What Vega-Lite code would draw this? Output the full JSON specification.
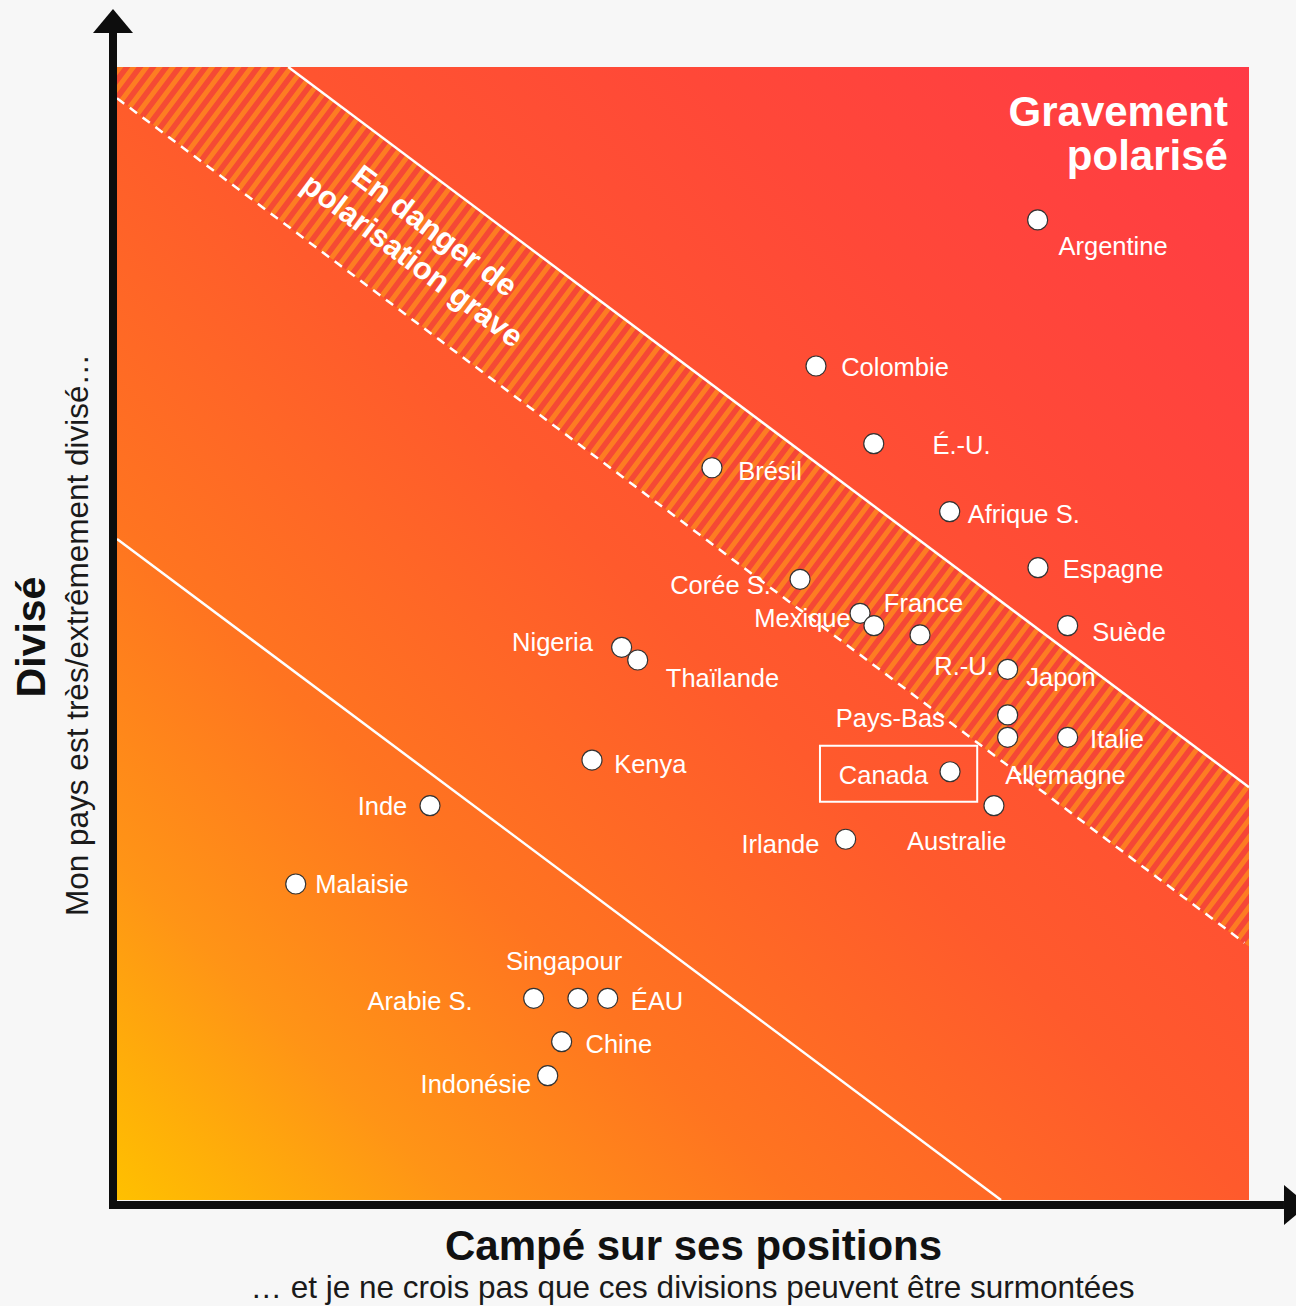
{
  "$schema": "https://vega.github.io/schema/vega-lite/v6.json",
  "width": 1132,
  "height": 1133,
  "autosize": {"type": "none"},
  "padding": {"left": 117, "top": 67, "right": 47, "bottom": 106},
  "background": "#F7F7F7",
  "config": {"view": {"stroke": null}, "font": "Liberation Sans"},
  "datasets": {
    "pays": [
      {"pays": "Argentine", "x": 81.33, "y": 86.5, "lx": 87.99, "ly": 83.41},
      {"pays": "Colombie", "x": 61.75, "y": 73.61, "lx": 68.73, "ly": 72.75},
      {"pays": "É.-U.", "x": 66.85, "y": 66.75, "lx": 74.6, "ly": 65.84},
      {"pays": "Brésil", "x": 52.56, "y": 64.63, "lx": 57.69, "ly": 63.55},
      {"pays": "Afrique S.", "x": 73.56, "y": 60.75, "lx": 80.1, "ly": 59.75},
      {"pays": "Espagne", "x": 81.36, "y": 55.81, "lx": 87.99, "ly": 54.9},
      {"pays": "Corée S.", "x": 60.34, "y": 54.78, "lx": 53.31, "ly": 53.49},
      {"pays": "Mexique", "x": 65.64, "y": 51.78, "lx": 60.56, "ly": 50.57},
      {"pays": "France", "x": 66.87, "y": 50.69, "lx": 71.25, "ly": 51.92},
      {"pays": "R.-U.", "x": 70.94, "y": 49.87, "lx": 74.82, "ly": 46.34},
      {"pays": "Suède", "x": 83.98, "y": 50.69, "lx": 89.4, "ly": 49.34},
      {"pays": "Nigeria", "x": 44.58, "y": 48.78, "lx": 38.47, "ly": 48.46},
      {"pays": "Thaïlande", "x": 46.0, "y": 47.66, "lx": 53.49, "ly": 45.3},
      {"pays": "Japon", "x": 78.68, "y": 46.84, "lx": 83.39, "ly": 45.37},
      {"pays": "Pays-Bas", "x": 78.68, "y": 42.81, "lx": 68.31, "ly": 41.77},
      {"pays": "Allemagne", "x": 78.68, "y": 40.84, "lx": 83.79, "ly": 36.72},
      {"pays": "Italie", "x": 83.98, "y": 40.84, "lx": 88.34, "ly": 39.87},
      {"pays": "Canada", "x": 73.59, "y": 37.8, "lx": 67.71, "ly": 36.72},
      {"pays": "Kenya", "x": 41.96, "y": 38.83, "lx": 47.11, "ly": 37.66},
      {"pays": "Australie", "x": 77.47, "y": 34.8, "lx": 74.18, "ly": 30.89},
      {"pays": "Irlande", "x": 64.37, "y": 31.84, "lx": 58.61, "ly": 30.63},
      {"pays": "Inde", "x": 27.65, "y": 34.8, "lx": 23.45, "ly": 33.98},
      {"pays": "Malaisie", "x": 15.79, "y": 27.89, "lx": 21.64, "ly": 27.07},
      {"pays": "Arabie S.", "x": 36.81, "y": 17.8, "lx": 26.77, "ly": 16.77},
      {"pays": "Singapour", "x": 40.72, "y": 17.8, "lx": 39.49, "ly": 20.3},
      {"pays": "ÉAU", "x": 43.35, "y": 17.8, "lx": 47.7, "ly": 16.77},
      {"pays": "Chine", "x": 39.28, "y": 13.97, "lx": 44.33, "ly": 12.95},
      {"pays": "Indonésie", "x": 38.05, "y": 10.97, "lx": 31.7, "ly": 9.42}
    ]
  },
  "data": {"name": "pays"},
  "layer": [
    {
      "data": {"values": [{}]},
      "mark": {
        "type": "rect",
        "fill": {
          "gradient": "linear", "x1": 0, "y1": 1, "x2": 1, "y2": 0,
          "stops": [
            {"offset": 0, "color": "#FFC000"},
            {"offset": 0.15, "color": "#FF9416"},
            {"offset": 0.3, "color": "#FF7420"},
            {"offset": 0.5, "color": "#FF5A2C"},
            {"offset": 0.75, "color": "#FF4838"},
            {"offset": 1, "color": "#FF3A46"}
          ]
        }
      },
      "encoding": {
        "x": {"datum": 0, "type": "quantitative", "scale": {"domain": [0, 100], "nice": false, "zero": false}, "axis": null},
        "x2": {"datum": 100},
        "y": {"datum": 0, "type": "quantitative", "scale": {"domain": [0, 100], "nice": false, "zero": false}, "axis": null},
        "y2": {"datum": 100}
      }
    },
    {
      "data": {"values": [{}]},
      "mark": {"type": "rule", "clip": true, "strokeWidth": 127, "color": "#EC3C3C", "opacity": 0.5, "strokeCap": "butt"},
      "encoding": {"x": {"datum": -15}, "y": {"datum": 115.52}, "x2": {"datum": 110}, "y2": {"datum": 21.86}}
    },
    {
      "data": {"values": [{}]},
      "mark": {"type": "rule", "clip": true, "strokeWidth": 127, "color": "#FF8A1E", "opacity": 0.8, "strokeCap": "butt", "strokeDash": [5, 5.5]},
      "encoding": {"x": {"datum": -15}, "y": {"datum": 115.52}, "x2": {"datum": 110}, "y2": {"datum": 21.86}}
    },
    {
      "data": {"values": [{}]},
      "mark": {"type": "rule", "color": "white", "strokeWidth": 2.5},
      "encoding": {"x": {"datum": 15.13}, "y": {"datum": 100}, "x2": {"datum": 100}, "y2": {"datum": 36.43}}
    },
    {
      "data": {"values": [{}]},
      "mark": {"type": "rule", "color": "white", "strokeWidth": 2.5, "strokeDash": [9, 7]},
      "encoding": {"x": {"datum": 0}, "y": {"datum": 97.24}, "x2": {"datum": 99.6}, "y2": {"datum": 22.7}}
    },
    {
      "data": {"values": [{}]},
      "mark": {"type": "rule", "color": "white", "strokeWidth": 2.5},
      "encoding": {"x": {"datum": 0}, "y": {"datum": 58.35}, "x2": {"datum": 78.09}, "y2": {"datum": 0}}
    },
    {
      "data": {"values": [{}]},
      "mark": {"type": "rect", "fillOpacity": 0, "stroke": "white", "strokeWidth": 2},
      "encoding": {"x": {"datum": 62.1}, "x2": {"datum": 75.99}, "y": {"datum": 35.15}, "y2": {"datum": 40.1}}
    },
    {
      "mark": {"type": "circle", "fill": "white", "stroke": "#333333", "strokeWidth": 1.2, "size": 400, "opacity": 1},
      "encoding": {
        "x": {"field": "x", "type": "quantitative"},
        "y": {"field": "y", "type": "quantitative"}
      }
    },
    {
      "mark": {"type": "text", "color": "white", "fontSize": 25.5, "align": "center", "baseline": "alphabetic"},
      "encoding": {
        "x": {"field": "lx", "type": "quantitative"},
        "y": {"field": "ly", "type": "quantitative"},
        "text": {"field": "pays"}
      }
    },
    {
      "data": {"values": [{}]},
      "mark": {"type": "text", "color": "white", "fontSize": 42, "fontWeight": "bold", "align": "right", "baseline": "alphabetic", "lineHeight": 44},
      "encoding": {"x": {"datum": 98.14}, "y": {"datum": 94.79}, "text": {"value": ["Gravement", "polarisé"]}}
    },
    {
      "data": {"values": [{}]},
      "mark": {"type": "text", "color": "white", "fontSize": 31, "fontWeight": "bold", "align": "center", "baseline": "middle", "lineHeight": 37, "angle": 36.8},
      "encoding": {"x": {"datum": 28.0}, "y": {"datum": 85.44}, "text": {"value": ["En danger de", "polarisation grave"]}}
    },
    {
      "data": {"values": [{}]},
      "mark": {"type": "rule", "color": "#0D0D0D", "strokeWidth": 8, "strokeCap": "butt"},
      "encoding": {"x": {"datum": -0.353}, "y": {"datum": -0.79}, "y2": {"datum": 103.0}}
    },
    {
      "data": {"values": [{}]},
      "mark": {"type": "rule", "color": "#0D0D0D", "strokeWidth": 8, "strokeCap": "butt"},
      "encoding": {"y": {"datum": -0.441}, "x": {"datum": -0.707}, "x2": {"datum": 103.09}}
    },
    {
      "data": {"values": [{}]},
      "mark": {"type": "point", "shape": "M-1,0.6L0,-0.6L1,0.6Z", "size": 1600, "filled": true, "color": "#0D0D0D", "opacity": 1, "strokeWidth": 0},
      "encoding": {"x": {"datum": -0.353}, "y": {"datum": 104.06}}
    },
    {
      "data": {"values": [{}]},
      "mark": {"type": "point", "shape": "M-0.6,-1L0.6,0L-0.6,1Z", "size": 1600, "filled": true, "color": "#0D0D0D", "opacity": 1, "strokeWidth": 0},
      "encoding": {"x": {"datum": 104.15}, "y": {"datum": -0.441}}
    },
    {
      "data": {"values": [{}]},
      "mark": {"type": "text", "color": "#111111", "fontSize": 42, "fontWeight": "bold", "align": "center", "baseline": "alphabetic"},
      "encoding": {"x": {"datum": 50.93}, "y": {"datum": -5.3}, "text": {"value": "Campé sur ses positions"}}
    },
    {
      "data": {"values": [{}]},
      "mark": {"type": "text", "color": "#1A1A1A", "fontSize": 31.5, "align": "center", "baseline": "alphabetic"},
      "encoding": {"x": {"datum": 50.84}, "y": {"datum": -8.65}, "text": {"value": "… et je ne crois pas que ces divisions peuvent  être surmontées"}}
    },
    {
      "data": {"values": [{}]},
      "mark": {"type": "text", "color": "#111111", "fontSize": 41, "fontWeight": "bold", "align": "center", "baseline": "alphabetic", "angle": 270},
      "encoding": {"x": {"datum": -6.36}, "y": {"datum": 49.69}, "text": {"value": "Divisé"}}
    },
    {
      "data": {"values": [{}]},
      "mark": {"type": "text", "color": "#1A1A1A", "fontSize": 31.5, "align": "center", "baseline": "alphabetic", "angle": 270},
      "encoding": {"x": {"datum": -2.54}, "y": {"datum": 49.87}, "text": {"value": "Mon pays  est très/extrêmement  divisé…"}}
    }
  ]
}
